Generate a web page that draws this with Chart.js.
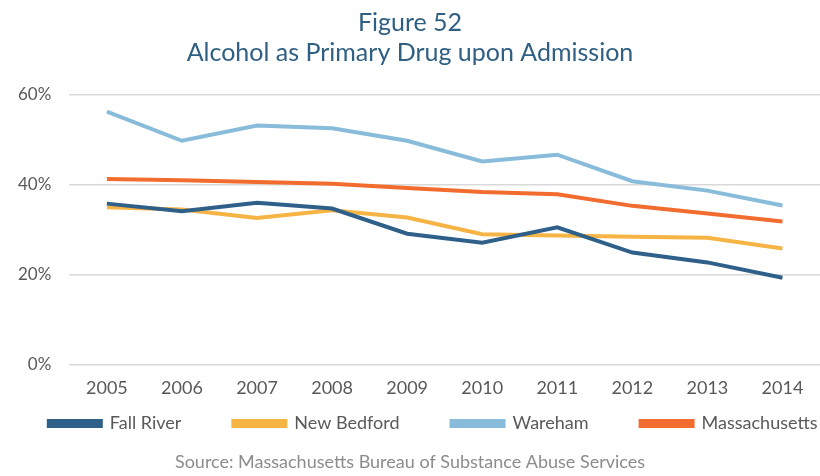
<!DOCTYPE html>
<html>
<head>
<meta charset="utf-8">
<script src="https://cdn.jsdelivr.net/npm/chart.js@4"></script>
<style>
  html, body { margin: 0; padding: 0; background: #fff; }
  #wrap { width: 820px; height: 476px; }
</style>
</head>
<body>
<div id="wrap"><canvas id="alcoholChart"></canvas></div>
<script>
// Années et pourcentages d'admissions (alcool comme drogue principale)
const years = ['2005', '2006', '2007', '2008', '2009', '2010', '2011', '2012', '2013', '2014'];
const fallRiver = [35.8, 34.1, 36.0, 34.7, 29.1, 27.1, 30.5, 24.9, 22.7, 19.3];
const newBedford = [35.0, 34.5, 32.6, 34.3, 32.7, 29.0, 28.7, 28.4, 28.2, 25.8];
const wareham = [56.3, 49.8, 53.2, 52.6, 49.8, 45.2, 46.7, 40.8, 38.7, 35.4];
const massachusetts = [41.3, 41.0, 40.6, 40.2, 39.3, 38.4, 37.9, 35.3, 33.6, 31.8];
const yTicks = [0, 20, 40, 60];

const FONT = 'Lato, "Open Sans", sans-serif';

function serie(label, data, color) {
    return {
        label: label,
        data: data,
        borderColor: color,
        backgroundColor: color,
        borderWidth: 4,
        pointRadius: 0,
        tension: 0
    };
}

// Espacement horizontal de la légende sans gonfler sa hauteur
function legendLabels(chart) {
    const items = Chart.defaults.plugins.legend.labels.generateLabels(chart);
    return items.map((item, i) => (
        i < items.length - 1 ? { ...item, text: item.text + '\u2003\u2003\u2003\u2002' } : item
    ));
}

const ctx = document.getElementById('alcoholChart').getContext('2d');
new Chart(ctx, {
    type: 'line',
    data: {
        labels: years,
        datasets: [
            serie('Fall River', fallRiver, '#2f6089'),
            serie('New Bedford', newBedford, '#f6b445'),
            serie('Wareham', wareham, '#88bcda'),
            serie('Massachusetts', massachusetts, '#f36c2f')
        ]
    },
    options: {
        responsive: true,
        maintainAspectRatio: false,
        animation: false,
        layout: {
            padding: { left: 0, right: 0, top: 4, bottom: 3 }
        },
        plugins: {
            title: {
                display: true,
                text: ['Figure 52', 'Alcohol as Primary Drug upon Admission'],
                color: '#2f5f82',
                font: { family: FONT, size: 25, weight: 'normal', lineHeight: 1.2 },
                padding: { top: 4, bottom: 27 }
            },
            subtitle: {
                display: true,
                position: 'bottom',
                text: 'Source: Massachusetts Bureau of Substance Abuse Services',
                color: '#8c8c8c',
                font: { family: FONT, size: 18, weight: 'normal' },
                padding: { top: 9, bottom: 0 }
            },
            legend: {
                position: 'bottom',
                align: 'end',
                labels: {
                    color: '#595959',
                    font: { family: FONT, size: 18 },
                    boxWidth: 52,
                    boxHeight: 5,
                    padding: 2.5,
                    generateLabels: legendLabels
                }
            },
            tooltip: { enabled: false }
        },
        scales: {
            x: {
                offset: true,
                grid: { display: false, drawTicks: false },
                border: { display: false },
                ticks: {
                    color: '#595959',
                    font: { family: FONT, size: 18 },
                    padding: 13,
                    maxRotation: 0
                }
            },
            y: {
                min: 0,
                max: 60,
                afterBuildTicks: (axis) => {
                    axis.ticks = yTicks.map(v => ({ value: v }));
                },
                grid: { color: '#d9d9d9', lineWidth: 1.5, drawTicks: false },
                border: { display: false },
                ticks: {
                    color: '#595959',
                    font: { family: FONT, size: 17 },
                    padding: 18,
                    callback: (v) => v + '%'
                }
            }
        }
    }
});
</script>
</body>
</html>
